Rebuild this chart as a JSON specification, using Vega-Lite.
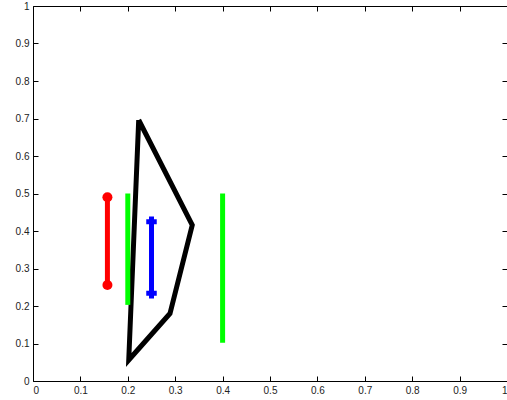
{
  "$schema": "https://vega.github.io/schema/vega-lite/v6.json",
  "width": 474,
  "height": 375,
  "autosize": {"type": "none"},
  "padding": {"left": 33, "top": 6, "right": 0, "bottom": 19},
  "background": "white",
  "config": {
    "view": {"stroke": null},
    "axis": {
      "grid": false,
      "domainColor": "black",
      "domainWidth": 1,
      "tickColor": "black",
      "tickSize": -5,
      "tickWidth": 1,
      "labelFont": "Liberation Sans",
      "labelFontSize": 10,
      "labelColor": "#222222",
      "title": null
    }
  },
  "data": {
    "values": [
      {"series": "black", "o": 0, "x": 0.223, "y": 0.696},
      {"series": "black", "o": 1, "x": 0.336, "y": 0.416},
      {"series": "black", "o": 2, "x": 0.289, "y": 0.18},
      {"series": "black", "o": 3, "x": 0.202, "y": 0.056},
      {"series": "black", "o": 4, "x": 0.223, "y": 0.696},
      {"series": "red", "o": 0, "x": 0.157, "y": 0.49},
      {"series": "red", "o": 1, "x": 0.157, "y": 0.256},
      {"series": "green1", "o": 0, "x": 0.2, "y": 0.5},
      {"series": "green1", "o": 1, "x": 0.2, "y": 0.203},
      {"series": "green2", "o": 0, "x": 0.4, "y": 0.5},
      {"series": "green2", "o": 1, "x": 0.4, "y": 0.102},
      {"series": "blue", "o": 0, "x": 0.25, "y": 0.425},
      {"series": "blue", "o": 1, "x": 0.25, "y": 0.234}
    ]
  },
  "encoding": {
    "x": {"field": "x", "type": "quantitative", "axis": null, "scale": {"domain": [0, 1], "nice": false, "zero": false}},
    "y": {"field": "y", "type": "quantitative", "axis": null, "scale": {"domain": [0, 1], "nice": false, "zero": false}}
  },
  "layer": [
    {
      "mark": {"type": "line", "strokeWidth": 5, "strokeJoin": "miter"},
      "encoding": {
        "x": {"field": "x", "type": "quantitative", "axis": {"orient": "bottom", "values": [0,0.1,0.2,0.3,0.4,0.5,0.6,0.7,0.8,0.9,1], "format": "~g", "labelPadding": 9}},
        "y": {"field": "y", "type": "quantitative", "axis": {"orient": "left", "values": [0,0.1,0.2,0.3,0.4,0.5,0.6,0.7,0.8,0.9,1], "format": "~g", "labelPadding": 9}},
        "order": {"field": "o", "type": "quantitative"},
        "detail": {"field": "series"},
        "color": {"field": "series", "type": "nominal", "legend": null,
          "scale": {"domain": ["black", "red", "green1", "green2", "blue"], "range": ["#000000", "#ff0000", "#00ff00", "#00ff00", "#0000ff"]}}
      }
    },
    {
      "transform": [{"filter": "datum.series === 'red'"}],
      "mark": {"type": "point", "shape": "circle", "filled": true, "size": 100, "color": "#ff0000", "opacity": 1}
    },
    {
      "transform": [{"filter": "datum.series === 'blue'"}],
      "mark": {"type": "point", "shape": "M-1,0L1,0M0,-1L0,1", "filled": false, "size": 110, "strokeWidth": 5, "color": "#0000ff", "opacity": 1}
    },
    {
      "mark": {"type": "point", "opacity": 0},
      "encoding": {
        "x": {"field": "x", "type": "quantitative", "axis": {"orient": "top", "labels": false, "values": [0,0.1,0.2,0.3,0.4,0.5,0.6,0.7,0.8,0.9,1]}},
        "y": {"field": "y", "type": "quantitative", "axis": {"orient": "right", "labels": false, "values": [0,0.1,0.2,0.3,0.4,0.5,0.6,0.7,0.8,0.9,1]}}
      }
    }
  ],
  "resolve": {"axis": {"x": "independent", "y": "independent"}}
}
